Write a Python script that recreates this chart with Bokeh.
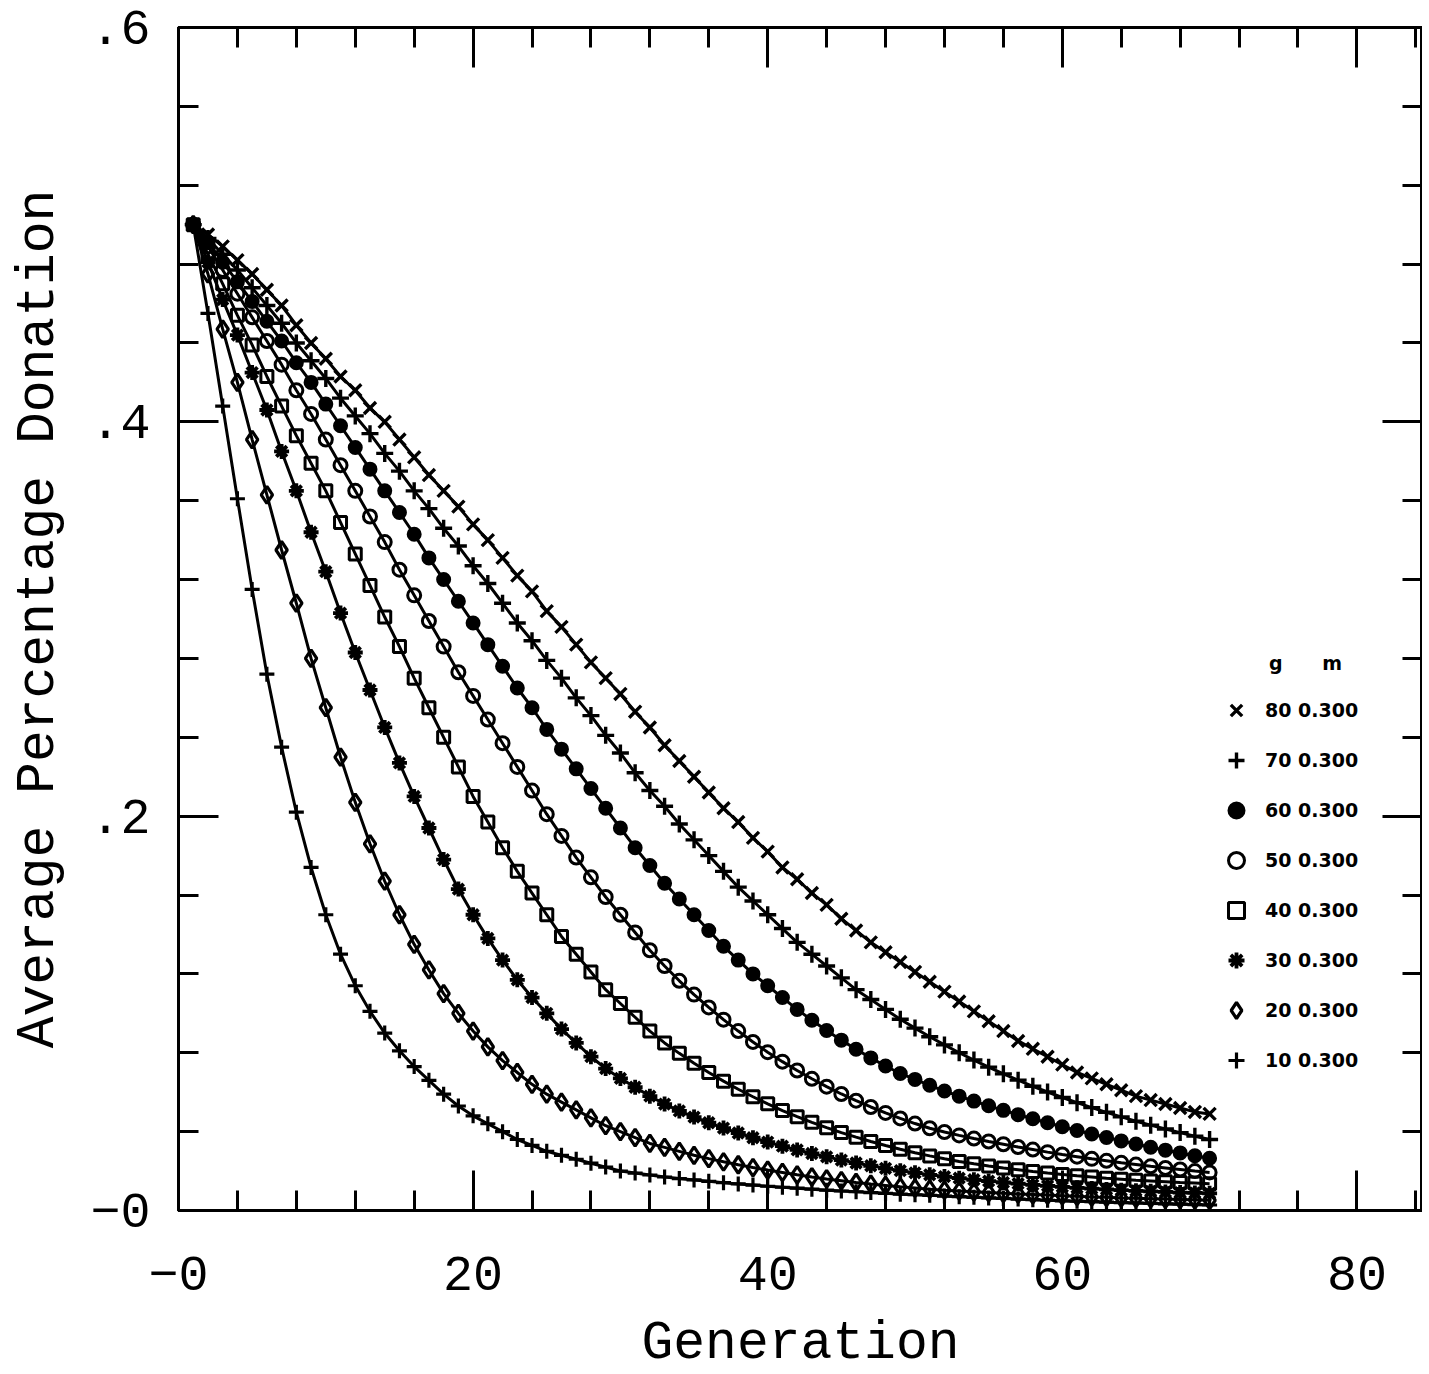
from bokeh.plotting import figure
from bokeh.models import Range1d, FixedTicker, LinearAxis, Legend, LegendItem
from bokeh.embed import file_html
from bokeh.resources import INLINE

# ---------------- data ----------------
generation = list(range(1, 71))

g_values = [80, 70, 60, 50, 40, 30, 20, 10]
m_values = [0.300, 0.300, 0.300, 0.300, 0.300, 0.300, 0.300, 0.300]

g80 = [.500, .495, .489, .482, .475, .467, .459, .449, .440, .432,
       .423, .416, .407, .400, .391, .382, .373, .365, .357, .348,
       .340, .331, .322, .314, .304, .296, .287, .278, .270, .262,
       .253, .245, .236, .228, .220, .212, .204, .197, .189, .182,
       .174, .168, .161, .155, .148, .142, .136, .131, .126, .121,
       .116, .111, .106, .101, .096, .091, .086, .082, .078, .074,
       .070, .067, .064, .061, .058, .056, .054, .052, .050, .049]

g70 = [.500, .493, .485, .477, .468, .459, .450, .440, .431, .422,
       .412, .403, .394, .384, .375, .365, .356, .346, .337, .327,
       .318, .308, .298, .289, .279, .270, .260, .251, .241, .232,
       .222, .213, .205, .196, .188, .180, .172, .164, .157, .150,
       .143, .136, .130, .124, .118, .112, .107, .102, .0970, .0925,
       .0881, .0840, .0800, .0763, .0727, .0693, .0661, .0630, .0601, .0573,
       .0547, .0522, .0498, .0475, .0453, .0433, .0413, .0395, .0377, .0360]

g60 = [.500, .491, .481, .471, .461, .451, .441, .430, .420, .409,
       .398, .387, .376, .365, .354, .343, .331, .320, .309, .298,
       .287, .276, .265, .255, .244, .234, .224, .214, .204, .194,
       .184, .175, .166, .158, .150, .142, .134, .127, .120, .114,
       .108, .102, .0965, .0913, .0864, .0818, .0774, .0733, .0695, .0665,
       .0635, .0606, .0580, .0555, .0531, .0508, .0486, .0465, .0445, .0425,
       .0406, .0388, .0370, .0353, .0337, .0321, .0306, .0292, .0278, .0265]

g50 = [.500, .489, .477, .465, .453, .441, .429, .416, .404, .391,
       .378, .365, .352, .339, .325, .312, .299, .286, .273, .261,
       .249, .237, .225, .213, .201, .190, .179, .169, .159, .150,
       .141, .132, .124, .1165, .1095, .1030, .0968, .0910, .0855, .0803,
       .0755, .0710, .0668, .0628, .0591, .0557, .0525, .0495, .0467, .0441,
       .0417, .0398, .0381, .0365, .0350, .0336, .0322, .0309, .0296, .0284,
       .0273, .0262, .0252, .0242, .0233, .0224, .0216, .0208, .0200, .0193]

g40 = [.500, .485, .470, .454, .439, .423, .408, .393, .379, .365,
       .349, .333, .317, .301, .286, .270, .255, .240, .225, .210,
       .197, .184, .172, .161, .150, .139, .130, .121, .112, .105,
       .098, .091, .085, .0797, .0747, .0700, .0656, .0615, .0577, .0541,
       .0507, .0476, .0447, .0420, .0395, .0372, .0350, .0330, .0311, .0293,
       .0277, .0262, .0249, .0237, .0226, .0216, .0207, .0198, .0190, .0183,
       .0176, .0170, .0164, .0159, .0154, .0150, .0146, .0142, .0139, .0136]

g30 = [.500, .481, .462, .444, .425, .406, .385, .365, .344, .324,
       .303, .283, .264, .245, .227, .210, .194, .178, .163, .150,
       .138, .127, .117, .108, .100, .092, .085, .078, .072, .067,
       .0625, .058, .054, .0505, .0474, .0445, .0418, .0393, .0369, .0347,
       .0326, .0307, .0289, .0272, .0256, .0241, .0227, .0214, .0202, .0191,
       .0181, .0172, .0164, .0156, .0149, .0142, .0136, .0130, .0125, .0120,
       .0115, .0111, .0107, .0103, .0100, .0097, .0094, .0091, .0089, .0087]

g20 = [.500, .475, .447, .420, .391, .363, .335, .308, .280, .255,
       .230, .207, .186, .167, .150, .135, .122, .110, .100, .091,
       .083, .076, .070, .064, .059, .055, .051, .047, .043, .040,
       .037, .034, .032, .030, .028, .0263, .0247, .0232, .0218, .0205,
       .0193, .0181, .0170, .0160, .0151, .0142, .0134, .0127, .0120, .0114,
       .0108, .0103, .0099, .0095, .0091, .0087, .0084, .0081, .0078, .0075,
       .0072, .0069, .0067, .0064, .0062, .0060, .0058, .0056, .0054, .0052]

g10 = [.500, .455, .408, .361, .315, .272, .235, .202, .174, .150,
       .130, .114, .101, .090, .081, .073, .066, .059, .053, .048,
       .044, .040, .036, .033, .030, .028, .026, .024, .022, .020,
       .019, .018, .017, .0162, .0155, .0148, .0141, .0135, .0129, .0123,
       .0118, .0113, .0108, .0103, .0099, .0095, .0091, .0087, .0083, .0080,
       .0077, .0073, .0070, .0067, .0064, .0061, .0058, .0055, .0052, .0049,
       .0047, .0045, .0042, .0040, .0038, .0036, .0034, .0032, .0030, .0028]

series = [g80, g70, g60, g50, g40, g30, g20, g10]

x_ticks = [0, 20, 40, 60, 80]
x_tick_labels = ["\u22120", "20", "40", "60", "80"]
y_ticks = [0, 0.2, 0.4, 0.6]
y_tick_labels = ["\u22120", ".2", ".4", ".6"]

# ---------------- styles ----------------
marker_styles = [
    dict(marker="x", size=17, line_width=3.4, fill_alpha=0),
    dict(marker="cross", size=17, line_width=3.4, fill_alpha=0),
    dict(marker="circle", size=13, line_width=2, fill_alpha=1),
    dict(marker="circle", size=13, line_width=3, fill_alpha=0),
    dict(marker="square", size=12, line_width=3, fill_alpha=0),
    dict(marker="asterisk", size=15, line_width=3.8, fill_alpha=0),
    dict(marker="diamond", size=17, line_width=3.2, fill_alpha=0),
    dict(marker="cross", size=15, line_width=3.2, fill_alpha=0),
]

TICK_FONT = "Liberation Mono"
FRAME_W, FRAME_H = 1244, 1183
PX_PER_GEN = 14.73

p = figure(frame_width=FRAME_W, frame_height=FRAME_H,
           x_range=Range1d(0, FRAME_W / PX_PER_GEN), y_range=Range1d(0, 0.6),
           output_backend="svg", toolbar_location=None,
           min_border_left=178, min_border_top=27, min_border_right=0,
           min_border_bottom=164)
p.background_fill_color = "white"
p.border_fill_color = "white"
p.grid.visible = False
p.outline_line_color = "black"
p.outline_line_width = 3

x_minor = [4 * i for i in range(22)]
y_minor = [round(0.04 * i, 2) for i in range(16)]
xt = FixedTicker(ticks=x_ticks, minor_ticks=x_minor)
yt = FixedTicker(ticks=y_ticks, minor_ticks=y_minor)


def style_ticks(ax):
    ax.axis_line_color = "black"
    ax.axis_line_width = 3
    ax.major_tick_in = 40
    ax.major_tick_out = 0
    ax.minor_tick_in = 20
    ax.minor_tick_out = 0
    ax.major_tick_line_width = 3
    ax.minor_tick_line_width = 3
    ax.major_tick_line_color = "black"
    ax.minor_tick_line_color = "black"


xa = p.xaxis[0]
ya = p.yaxis[0]
xa.ticker = xt
ya.ticker = yt
style_ticks(xa)
style_ticks(ya)
xa.major_label_overrides = dict(zip(x_ticks, x_tick_labels))
ya.major_label_overrides = dict(zip(y_ticks, y_tick_labels))
for ax in (xa, ya):
    ax.major_label_text_font = TICK_FONT
    ax.major_label_text_font_size = "50px"
    ax.major_label_text_color = "black"
    ax.axis_label_text_font = TICK_FONT
    ax.axis_label_text_font_size = "53px"
    ax.axis_label_text_font_style = "normal"
    ax.axis_label_text_color = "black"
xa.axis_label = "Generation"
ya.axis_label = "Average Percentage Donation"
xa.major_label_standoff = 46
xa.axis_label_standoff = 21
ya.major_label_standoff = 28
ya.axis_label_standoff = 18

# tick-only axes on the top and right (no labels): minor ticks everywhere,
# plus a second tick-only axis carrying the longer ticks at the major positions
for side, minor, major in (("above", x_minor, x_ticks), ("right", y_minor, y_ticks)):
    for pos, length in ((minor, 20), (major, 40)):
        ax = LinearAxis(ticker=FixedTicker(ticks=[], minor_ticks=pos))
        style_ticks(ax)
        ax.axis_line_color = None
        ax.minor_tick_in = length
        ax.major_label_standoff = 0
        p.add_layout(ax, side)

items = []
for g, m, ys, st in zip(g_values, m_values, series, marker_styles):
    p.line(generation, ys, line_color="black", line_width=3)
    r = p.scatter(generation, ys, marker=st["marker"], size=st["size"],
                  line_color="black", line_width=st["line_width"],
                  fill_color="black", fill_alpha=st["fill_alpha"])
    items.append(LegendItem(label=f"{g} {m:.3f}", renderers=[r]))

legend = Legend(items=items, location=(1038, 130))
legend.title = "\u00a0" * 8 + "g" + "\u00a0" * 6 + "m"
legend.title_text_font = "DejaVu Sans"
legend.title_text_font_size = "19px"
legend.title_text_font_style = "bold"
legend.title_text_color = "black"
legend.title_standoff = 16
legend.label_text_font = "DejaVu Sans"
legend.label_text_font_size = "19px"
legend.label_text_font_style = "bold"
legend.label_text_color = "black"
legend.label_height = 40
legend.glyph_height = 40
legend.glyph_width = 40
legend.spacing = 10
legend.label_standoff = 9
legend.padding = 0
legend.margin = 0
legend.border_line_alpha = 0
legend.background_fill_alpha = 0
p.add_layout(legend)

open("out.html", "w").write(file_html(p, INLINE))
